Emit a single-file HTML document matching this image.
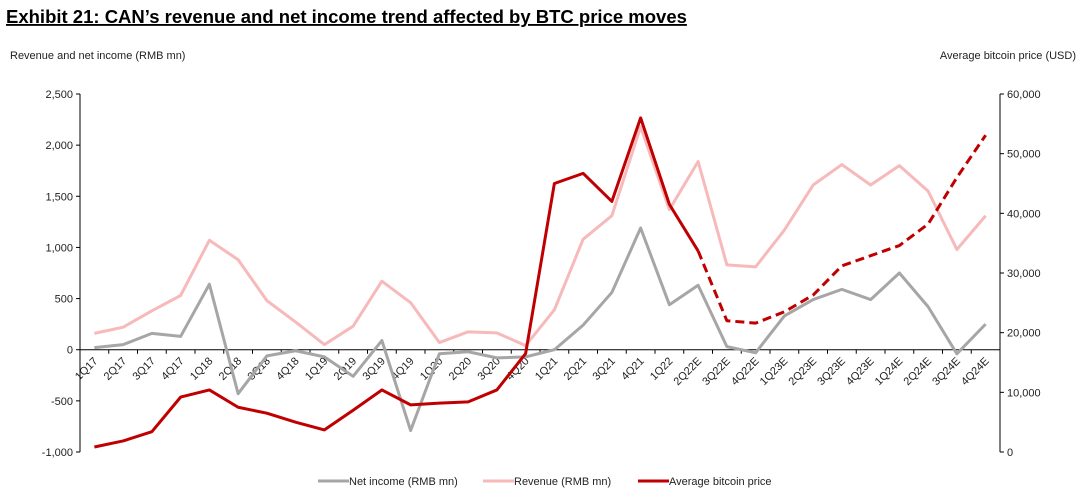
<!DOCTYPE html>
<html><head><meta charset="utf-8"><style>
body{margin:0;background:#fff;font-family:"Liberation Sans",Arial,sans-serif;}
#wrap{position:relative;width:1083px;height:500px;overflow:hidden;}
</style></head><body>
<div id="wrap">
<svg id="chart" width="1083" height="500" xmlns="http://www.w3.org/2000/svg" font-family="Liberation Sans, Arial, sans-serif">
<text x="6" y="23" font-size="18.5" font-weight="bold" text-decoration="underline" fill="#000">Exhibit 21: CAN’s revenue and net income trend affected by BTC price moves</text>
<text x="10" y="59" font-size="11" fill="#222">Revenue and net income (RMB mn)</text>
<text x="1076" y="59" font-size="11" fill="#222" text-anchor="end">Average bitcoin price (USD)</text>
<g id="axes"></g><g id="series"></g><g id="legend"></g>
</svg>
</div>
<script>
const categories=["1Q17","2Q17","3Q17","4Q17","1Q18","2Q18","3Q18","4Q18","1Q19","2Q19","3Q19","4Q19","1Q20","2Q20","3Q20","4Q20","1Q21","2Q21","3Q21","4Q21","1Q22","2Q22E","3Q22E","4Q22E","1Q23E","2Q23E","3Q23E","4Q23E","1Q24E","2Q24E","3Q24E","4Q24E"];
const revenue=[160,220,380,530,1070,880,480,270,50,230,670,460,70,175,165,40,390,1080,1310,2180,1370,1840,830,810,1170,1610,1810,1610,1800,1550,980,1310];
const netIncome=[20,50,160,130,640,-430,-60,-10,-70,-260,90,-790,-40,-20,-80,-70,0,240,560,1190,440,630,30,-30,330,490,590,490,750,420,-40,250];
const btcPrice=[840,1850,3400,9200,10400,7500,6500,5000,3700,7000,10400,7900,8200,8400,10400,16500,45000,46700,42000,56000,41500,33700,22000,21600,23500,26300,31200,32900,34600,38200,46000,53100];
const leftTicks=[-1000,-500,0,500,1000,1500,2000,2500];
const rightTicks=[0,10000,20000,30000,40000,50000,60000];
const dashStart=21;
const NS="http://www.w3.org/2000/svg";
const X0=80,X1=1000,Ytop=94,Ybot=452;
const xc=i=>X0+(X1-X0)/categories.length*(i+0.5);
const xb=i=>X0+(X1-X0)/categories.length*i;
const yL=v=>Ybot-(v+1000)/3500*(Ybot-Ytop);
const yR=v=>Ybot-v/60000*(Ybot-Ytop);
function mk(tag,attrs,parent){const e=document.createElementNS(NS,tag);for(const k in attrs)e.setAttribute(k,attrs[k]);parent.appendChild(e);return e;}
const axes=document.getElementById('axes'),series=document.getElementById('series'),legend=document.getElementById('legend');
let e=mk('line',{x1:X0,y1:Ytop,x2:X0,y2:Ybot,stroke:'#000','stroke-width':1},axes);


e=mk('line',{x1:X1,y1:Ytop,x2:X1,y2:Ybot,stroke:'#000','stroke-width':1},axes);


leftTicks.forEach(v=>{const y=yL(v);
 mk('line',{x1:X0-4,y1:y,x2:X0,y2:y,stroke:'#000'},axes);
 const t=mk('text',{x:X0-7,y:y+4,'font-size':11,'text-anchor':'end',fill:'#222'},axes);
 t.textContent=v.toLocaleString('en-US');
 
 });
rightTicks.forEach(v=>{const y=yR(v);
 mk('line',{x1:X1,y1:y,x2:X1+4,y2:y,stroke:'#000'},axes);
 const t=mk('text',{x:X1+7,y:y+4,'font-size':11,fill:'#222'},axes);
 t.textContent=v.toLocaleString('en-US');
 
 });
const y0=yL(0);
e=mk('line',{x1:X0,y1:y0,x2:X1,y2:y0,stroke:'#000','stroke-width':1},axes);


categories.forEach((c,i)=>{
 mk('line',{x1:xb(i),y1:y0,x2:xb(i),y2:y0+4,stroke:'#000'},axes);
 const x=xc(i)+4,y=y0+12;
 const t=mk('text',{x:x,y:y,'font-size':11,'text-anchor':'end',fill:'#222',transform:`rotate(-45 ${x} ${y})`},axes);
 t.textContent=c;
 
 });
function pts(arr,f,a,b){return arr.slice(a,b).map((v,k)=>xc(a+k)+','+f(v)).join(' ');}
e=mk('polyline',{points:pts(revenue,yL,0,revenue.length),fill:'none',stroke:'#f7b9b9','stroke-width':3,'stroke-linejoin':'round'},series);


e=mk('polyline',{points:pts(netIncome,yL,0,netIncome.length),fill:'none',stroke:'#a6a6a6','stroke-width':3,'stroke-linejoin':'round'},series);


e=mk('polyline',{points:pts(btcPrice,yR,0,dashStart+1),fill:'none',stroke:'#c00000','stroke-width':3,'stroke-linejoin':'round'},series);


e=mk('polyline',{points:pts(btcPrice,yR,dashStart,btcPrice.length),fill:'none',stroke:'#c00000','stroke-width':3,'stroke-dasharray':'9,5','stroke-linejoin':'round'},series);


const leg=[["Net income (RMB mn)","#a6a6a6",318],["Revenue (RMB mn)","#f7b9b9",483],["Average bitcoin price","#c00000",638]];
leg.forEach(([lab,col,x])=>{
 const g=mk('g',{},legend);
 
 
 mk('line',{x1:x,y1:481,x2:x+31,y2:481,stroke:col,'stroke-width':3},g);
 const t=mk('text',{x:x+31,y:485,'font-size':11,fill:'#222'},g);t.textContent=lab;});
</script>
</body></html>
